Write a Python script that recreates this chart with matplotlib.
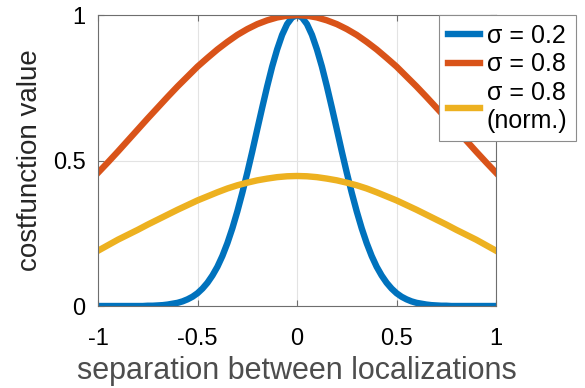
import matplotlib
matplotlib.use("Agg")
import matplotlib.pyplot as plt

plt.rcParams['font.family'] = ['Liberation Sans', 'DejaVu Sans']

# sigma = 0.2 curve is narrow, so it gets a finer grid (step 0.025)
x_fine = [round(-1 + 0.025 * i, 3) for i in range(81)]
half_s02 = [0.0] * 10 + [0.001, 0.001, 0.002, 0.003, 0.005, 0.008, 0.011, 0.016, 0.023, 0.032,
                         0.044, 0.060, 0.080, 0.105, 0.135, 0.172, 0.216, 0.267, 0.325, 0.389,
                         0.458, 0.531, 0.607, 0.682, 0.755, 0.823, 0.882, 0.932, 0.969, 0.992]
cost_s02 = half_s02 + [1.0] + half_s02[::-1]

# separation between localizations, step 0.05
x_sep = [round(-1 + 0.05 * i, 2) for i in range(41)]

# cost function, sigma = 0.8
half_s08 = [0.458, 0.494, 0.531, 0.569, 0.607, 0.645, 0.682, 0.719, 0.755, 0.789,
            0.823, 0.853, 0.882, 0.908, 0.932, 0.952, 0.969, 0.982, 0.992, 0.998]
cost_s08 = half_s08 + [1.0] + half_s08[::-1]

# cost function, sigma = 0.8 normalised
half_s08n = [0.19, 0.209, 0.228, 0.245, 0.262, 0.28, 0.297, 0.314, 0.331, 0.347,
             0.363, 0.377, 0.391, 0.404, 0.415, 0.424, 0.432, 0.438, 0.443, 0.446]
cost_s08n = half_s08n + [0.447] + half_s08n[::-1]

labels = ['σ = 0.2', 'σ = 0.8', 'σ = 0.8\n(norm.)']
colors = ['#0072BD', '#D95319', '#EDB120']

fig = plt.figure(figsize=(5.85, 3.88), dpi=100)
ax = fig.add_axes([0.1675, 0.2113, 0.6805, 0.7497])

ax.plot(x_fine, cost_s02, color=colors[0], lw=4.6, label=labels[0], solid_joinstyle='round')
ax.plot(x_sep, cost_s08, color=colors[1], lw=4.6, label=labels[1], solid_joinstyle='round')
ax.plot(x_sep, cost_s08n, color=colors[2], lw=4.6, label=labels[2], solid_joinstyle='round')

ax.set_xlim(-1, 1)
ax.set_ylim(0, 1)
ax.set_xticks([-1, -0.5, 0, 0.5, 1])
ax.set_xticklabels(['-1', '-0.5', '0', '0.5', '1'])
ax.set_yticks([0, 0.5, 1])
ax.set_yticklabels(['0', '0.5', '1'])
ax.grid(True, color='#e3e3e3', lw=0.8)
ax.set_axisbelow(True)
for s in ax.spines.values():
    s.set_color('#6e6e6e')
    s.set_linewidth(0.8)
ax.tick_params(direction='in', length=4, width=0.8, color='#6e6e6e',
               labelsize=17, top=True, right=True,
               labeltop=False, labelright=False)
ax.tick_params(axis='x', pad=16)
ax.tick_params(axis='y', pad=9)

ax.set_xlabel('separation between localizations', fontsize=22, color='#4d4d4d', labelpad=4)
ax.set_ylabel('costfunction value', fontsize=20, color='#262626', labelpad=7)

leg = ax.legend(loc='upper right', bbox_to_anchor=(1.201, 1.0), borderaxespad=0,
                fontsize=18, handlelength=1.3, handletextpad=0.25,
                labelspacing=0.18, borderpad=0.35, fancybox=False, framealpha=1)
leg.get_frame().set_edgecolor('#8c8c8c')
leg.get_frame().set_linewidth(0.8)

fig.savefig('out.png', dpi=100)
